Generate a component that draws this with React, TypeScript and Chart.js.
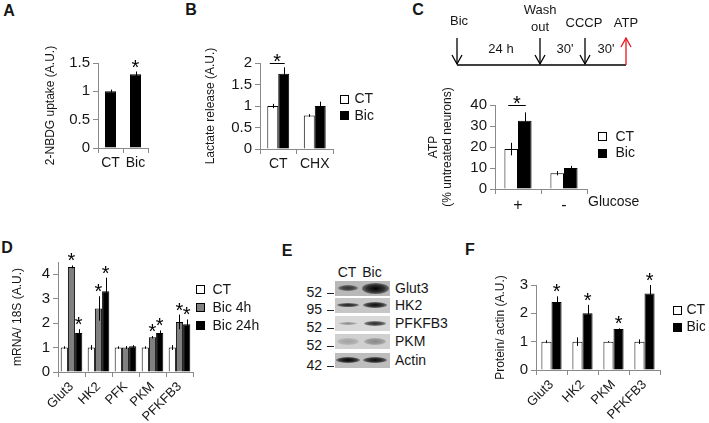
import React, { useEffect, useRef } from 'react';
import { Chart, registerables } from 'chart.js';

Chart.register(...registerables);

const FONT = '"Liberation Sans", Arial, Helvetica, sans-serif';
Chart.defaults.font.family = FONT;

// ---------- Panel A ----------
const aCategories = ['CT', 'Bic'];
const aValues = [1.0, 1.3];
const aErrors = [0.03, 0.05];

// ---------- Panel B ----------
const bCategories = ['CT', 'CHX'];
const bCT = [1.0, 0.78];
const bCTErr = [0.05, 0.03];
const bBic = [1.75, 1.0];
const bBicErr = [0.15, 0.1];

// ---------- Panel C ----------
const cCategories = ['+', '-'];
const cCT = [19, 7.5];
const cCTErr = [3, 1];
const cBic = [32.5, 10];
const cBicErr = [4, 1];

// ---------- Panel D ----------
const dCategories = ['Glut3', 'HK2', 'PFK', 'PKM', 'PFKFB3'];
const dCT = [1, 1, 1, 1, 1];
const dCTErr = [0.05, 0.1, 0.05, 0.05, 0.1];
const dBic4h = [4.3, 2.6, 1.0, 1.42, 2.05];
const dBic4hErr = [0.06, 0.5, 0.06, 0.05, 0.3];
const dBic24h = [1.6, 3.3, 1.05, 1.6, 1.95];
const dBic24hErr = [0.15, 0.56, 0.05, 0.1, 0.2];

// ---------- Panel F ----------
const fCategories = ['Glut3', 'HK2', 'PKM', 'PFKFB3'];
const fCT = [1, 1, 1, 1];
const fCTErr = [0.05, 0.15, 0.02, 0.08];
const fBic = [2.4, 2.0, 1.45, 2.7];
const fBicErr = [0.2, 0.3, 0.02, 0.3];

// ---------- Panel E (blot) ----------
const blotProteins = ['Glut3', 'HK2', 'PFKFB3', 'PKM', 'Actin'];
const blotMW = ['52', '95', '52', '52', '42'];

const AXIS = '#8a8a8a';
const TXT = '#161616';

type Series = { label: string; values: number[]; errors: number[]; color: string };
type PanelProps = {
  left: number; top: number; width: number; height: number;
  yWidth: number; xHeight: number; padTop: number; padRight: number;
  labels: string[]; series: Series[];
  yMax: number; yStep: number; yTitle: string | string[];
  catPct: number; barPct?: number; rotate: number; xFont: number;
  stars: number[][]; sig?: { idx: number; value: number }[];
  legend?: { dx: number; dy: number; gap: number; textGap: number };
};

const extrasPlugin = {
  id: 'extras',
  afterDatasetsDraw(chart: any, _args: any, opts: any) {
    const ctx = chart.ctx;
    const ys = chart.scales.y;
    ctx.save();
    ctx.strokeStyle = '#000';
    ctx.lineWidth = 1;
    chart.data.datasets.forEach((ds: any, di: number) => {
      const meta = chart.getDatasetMeta(di);
      meta.data.forEach((bar: any, i: number) => {
        const v = ds.data[i];
        const e = ds.errors[i];
        const x = Math.round(bar.x) + 0.5;
        ctx.beginPath();
        ctx.moveTo(x, ys.getPixelForValue(v - e));
        ctx.lineTo(x, ys.getPixelForValue(v + e));
        ctx.stroke();
      });
    });
    ctx.fillStyle = '#000';
    ctx.font = `20px ${FONT}`;
    ctx.textAlign = 'center';
    ctx.textBaseline = 'alphabetic';
    (opts.stars || []).forEach(([di, i]: number[]) => {
      const ds = chart.data.datasets[di];
      const bar = chart.getDatasetMeta(di).data[i];
      const top = ys.getPixelForValue(ds.data[i] + ds.errors[i]);
      ctx.fillText('*', bar.x, top + 2);
    });
    (opts.sig || []).forEach((s: any) => {
      const b0 = chart.getDatasetMeta(0).data[s.idx];
      const b1 = chart.getDatasetMeta(1).data[s.idx];
      const y = Math.round(ys.getPixelForValue(s.value)) + 0.5;
      const x1 = b0.x - 3;
      const x2 = b1.x + 1;
      ctx.beginPath();
      ctx.moveTo(x1, y);
      ctx.lineTo(x2, y);
      ctx.stroke();
      ctx.fillText('*', (x1 + x2) / 2, y + 4);
    });
    const lg = opts.legend;
    if (lg) {
      const ca = chart.chartArea;
      ctx.font = `14px ${FONT}`;
      ctx.textAlign = 'left';
      ctx.textBaseline = 'middle';
      chart.data.datasets.forEach((ds: any, di: number) => {
        const sx = Math.round(ca.right + lg.dx) + 0.5;
        const cy = ca.top + lg.dy + di * lg.gap;
        const sy = Math.round(cy - 4) + 0.5;
        ctx.fillStyle = ds.backgroundColor;
        ctx.fillRect(sx, sy, 8, 8);
        ctx.strokeStyle = '#000';
        ctx.strokeRect(sx, sy, 8, 8);
        ctx.fillStyle = TXT;
        ctx.fillText(ds.label, sx + 8 + lg.textGap, cy + 1);
      });
    }
    ctx.restore();
  },
};

function BarPanel(p: PanelProps) {
  const ref = useRef<HTMLCanvasElement>(null);
  useEffect(() => {
    const chart = new Chart(ref.current as HTMLCanvasElement, {
      type: 'bar',
      data: {
        labels: p.labels,
        datasets: p.series.map((s) => ({
          label: s.label,
          data: s.values,
          errors: s.errors,
          backgroundColor: s.color,
          borderColor: '#000',
          borderWidth: 1,
          barPercentage: p.barPct ?? 1,
          categoryPercentage: p.catPct,
        })) as any,
      },
      options: {
        responsive: false,
        animation: false,
        layout: { padding: { top: p.padTop, right: p.padRight, left: 0, bottom: 0 } },
        plugins: {
          legend: { display: false },
          tooltip: { enabled: false },
          extras: { stars: p.stars, sig: p.sig, legend: p.legend },
        } as any,
        scales: {
          x: {
            grid: { display: true, drawOnChartArea: false, drawTicks: true, tickLength: 5, color: AXIS, offset: true },
            border: { display: true, color: AXIS, width: 1 },
            ticks: {
              color: TXT, font: { family: FONT, size: p.xFont },
              minRotation: p.rotate, maxRotation: p.rotate, padding: 2, autoSkip: false,
            },
            afterFit: (s: any) => { s.height = p.xHeight; },
          },
          y: {
            min: 0, max: p.yMax,
            grid: { display: true, drawOnChartArea: false, drawTicks: true, tickLength: 5, color: AXIS },
            border: { display: true, color: AXIS, width: 1 },
            ticks: {
              stepSize: p.yStep, includeBounds: false, color: TXT, font: { family: FONT, size: 15 }, padding: 3,
              callback: (v: any) => String(Math.round(Number(v) * 100) / 100),
            },
            title: { display: true, text: p.yTitle, font: { family: FONT, size: 12 }, color: TXT, padding: 0 },
            afterFit: (s: any) => { s.width = p.yWidth; },
            afterBuildTicks: (s: any) => {
              const out: any[] = [];
              const n = Math.floor(p.yMax / p.yStep + 1e-6);
              for (let k = 0; k <= n; k++) out.push({ value: Math.round(k * p.yStep * 1000) / 1000 });
              s.ticks = out;
            },
          } as any,
        },
      } as any,
      plugins: [extrasPlugin],
    });
    return () => chart.destroy();
  }, []);
  return (
    <canvas
      ref={ref}
      width={p.width}
      height={p.height}
      style={{ position: 'absolute', left: p.left, top: p.top, width: p.width, height: p.height }}
    />
  );
}

function T(props: { x: number; y: number; s: string; size?: number; bold?: boolean; color?: string; align?: 'c' | 'l' | 'r' }) {
  const { x, y, s, size = 12, bold = false, color = TXT, align = 'c' } = props;
  const tr = align === 'c' ? 'translate(-50%,-50%)' : align === 'l' ? 'translate(0,-50%)' : 'translate(-100%,-50%)';
  return (
    <div style={{ position: 'absolute', left: x, top: y, transform: tr, font: `${bold ? 'bold ' : ''}${size}px ${FONT}`, color, whiteSpace: 'nowrap', lineHeight: 1 }}>
      {s}
    </div>
  );
}

function Arrow({ x, y1, y2, color = '#000' }: { x: number; y1: number; y2: number; color?: string }) {
  const dir = y2 > y1 ? 1 : -1;
  return (
    <g stroke={color} strokeWidth={1.3} fill="none">
      <line x1={x} y1={y1} x2={x} y2={y2} />
      <polyline points={`${x - 5},${y2 - dir * 9} ${x},${y2} ${x + 5},${y2 - dir * 9}`} />
    </g>
  );
}

const stripCenters = [288, 305, 323, 341, 360];
const stripBg = ['#b8b8b8', '#c6c6c6', '#d8d8d8', '#d0d0d0', '#bdbdbd'];
const bandSpec = [
  [{ w: 20, h: 6, a: 0.75 }, { w: 27, h: 11, a: 1 }],
  [{ w: 22, h: 4, a: 0.85 }, { w: 24, h: 6, a: 0.95 }],
  [{ w: 18, h: 3, a: 0.35 }, { w: 22, h: 5, a: 0.8 }],
  [{ w: 22, h: 7, a: 0.22 }, { w: 22, h: 7, a: 0.35 }],
  [{ w: 24, h: 6, a: 1 }, { w: 24, h: 6, a: 0.95 }],
];
const mwCenters = [292, 309, 327, 345, 365];

function Blot() {
  return (
    <>
      <T x={347} y={272} s="CT" size={14} />
      <T x={372} y={272} s="Bic" size={14} />
      {blotProteins.map((name, r) => (
        <React.Fragment key={name}>
          <div style={{ position: 'absolute', left: 335, top: stripCenters[r] - 7.5, width: 55, height: 15, background: stripBg[r], overflow: 'hidden' }}>
            {bandSpec[r].map((b, k) => (
              <div key={k} style={{
                position: 'absolute', left: (k === 0 ? 13 : 40) - b.w / 2, top: 7.5 - b.h / 2, width: b.w, height: b.h,
                background: `radial-gradient(ellipse at center, rgba(0,0,0,${b.a}) 0%, rgba(0,0,0,${b.a * 0.75}) 45%, rgba(0,0,0,0) 100%)`,
                borderRadius: '50%',
              }} />
            ))}
          </div>
          <T x={395} y={stripCenters[r]} s={name} size={14} align="l" />
          <T x={322} y={mwCenters[r]} s={blotMW[r]} size={14} align="r" />
          <div style={{ position: 'absolute', left: 327, top: mwCenters[r] + 1, width: 7, height: 1.3, background: '#222' }} />
        </React.Fragment>
      ))}
    </>
  );
}

export default function App() {
  return (
    <div style={{ position: 'absolute', left: 0, top: 0, width: 709, height: 423, background: '#fff', overflow: 'hidden' }}>
      <T x={9} y={11} s="A" size={16} bold />
      <T x={191} y={10} s="B" size={16} bold />
      <T x={418} y={10} s="C" size={16} bold />
      <T x={7} y={248} s="D" size={16} bold />
      <T x={287} y={251} s="E" size={16} bold />
      <T x={470} y={250} s="F" size={16} bold />

      <BarPanel
        left={43} top={30} width={110} height={148}
        yWidth={55} xHeight={30} padTop={33} padRight={5}
        labels={aCategories}
        series={[{ label: 'Uptake', values: aValues, errors: aErrors, color: '#000' }]}
        yMax={1.5} yStep={0.5} yTitle="2-NBDG uptake (A.U.)"
        catPct={0.44} rotate={0} xFont={14}
        stars={[[0, 1]]}
      />

      <BarPanel
        left={203} top={30} width={175} height={149}
        yWidth={57} xHeight={30} padTop={33} padRight={45}
        labels={bCategories}
        series={[
          { label: 'CT', values: bCT, errors: bCTErr, color: '#fff' },
          { label: 'Bic', values: bBic, errors: bBicErr, color: '#000' },
        ]}
        yMax={2} yStep={0.5} yTitle="Lactate release (A.U.)"
        catPct={0.6} rotate={0} xFont={14}
        stars={[]} sig={[{ idx: 0, value: 2 }]}
        legend={{ dx: 7, dy: 35.5, gap: 16.5, textGap: 6 }}
      />

      <svg width={709} height={80} style={{ position: 'absolute', left: 0, top: 0 }}>
        <line x1={457} y1={65} x2={626} y2={65} stroke="#000" strokeWidth={1.3} />
        <Arrow x={457} y1={38} y2={64} />
        <Arrow x={540} y1={38} y2={64} />
        <Arrow x={585} y1={38} y2={64} />
        <Arrow x={626} y1={65} y2={38} color="#e8141c" />
      </svg>
      <T x={459} y={20} s="Bic" size={13} />
      <T x={501} y={48} s="24 h" size={13} />
      <T x={540} y={9} s="Wash" size={13} />
      <T x={540} y={26} s="out" size={13} />
      <T x={565} y={48} s="30'" size={13} />
      <T x={584} y={22} s="CCCP" size={13} />
      <T x={606} y={48} s="30'" size={13} />
      <T x={626} y={22} s="ATP" size={13} />

      <BarPanel
        left={426} top={80} width={211} height={134}
        yWidth={69} xHeight={25} padTop={25} padRight={50}
        labels={cCategories}
        series={[
          { label: 'CT', values: cCT, errors: cCTErr, color: '#fff' },
          { label: 'Bic', values: cBic, errors: cBicErr, color: '#000' },
        ]}
        yMax={40} yStep={10} yTitle={['ATP', '(% untreated neurons)']}
        catPct={0.59} rotate={0} xFont={16}
        stars={[]} sig={[{ idx: 0, value: 40 }]}
        legend={{ dx: 11, dy: 31, gap: 16.5, textGap: 9 }}
      />
      <T x={588} y={201} s="Glucose" size={14} align="l" />

      <BarPanel
        left={10} top={240} width={253} height={182}
        yWidth={48} xHeight={50} padTop={22} padRight={70}
        labels={dCategories}
        series={[
          { label: 'CT', values: dCT, errors: dCTErr, color: '#fff' },
          { label: 'Bic 4h', values: dBic4h, errors: dBic4hErr, color: '#808080' },
          { label: 'Bic 24h', values: dBic24h, errors: dBic24hErr, color: '#000' },
        ]}
        yMax={4.5} yStep={1} yTitle="mRNA/ 18S (A.U.)"
        catPct={0.8} rotate={45} xFont={13}
        stars={[[1, 0], [2, 0], [1, 1], [2, 1], [1, 3], [2, 3], [1, 4], [2, 4]]}
        legend={{ dx: 3, dy: 27, gap: 18, textGap: 8 }}
      />

      <Blot />

      <BarPanel
        left={493} top={260} width={212} height={162}
        yWidth={43} xHeight={52} padTop={25} padRight={45}
        labels={fCategories}
        series={[
          { label: 'CT', values: fCT, errors: fCTErr, color: '#fff' },
          { label: 'Bic', values: fBic, errors: fBicErr, color: '#000' },
        ]}
        yMax={3} yStep={1} yTitle="Protein/ actin (A.U.)"
        catPct={0.65} rotate={45} xFont={13}
        stars={[[1, 0], [1, 1], [1, 2], [1, 3]]}
        legend={{ dx: 13, dy: 24.5, gap: 17, textGap: 5 }}
      />
    </div>
  );
}
